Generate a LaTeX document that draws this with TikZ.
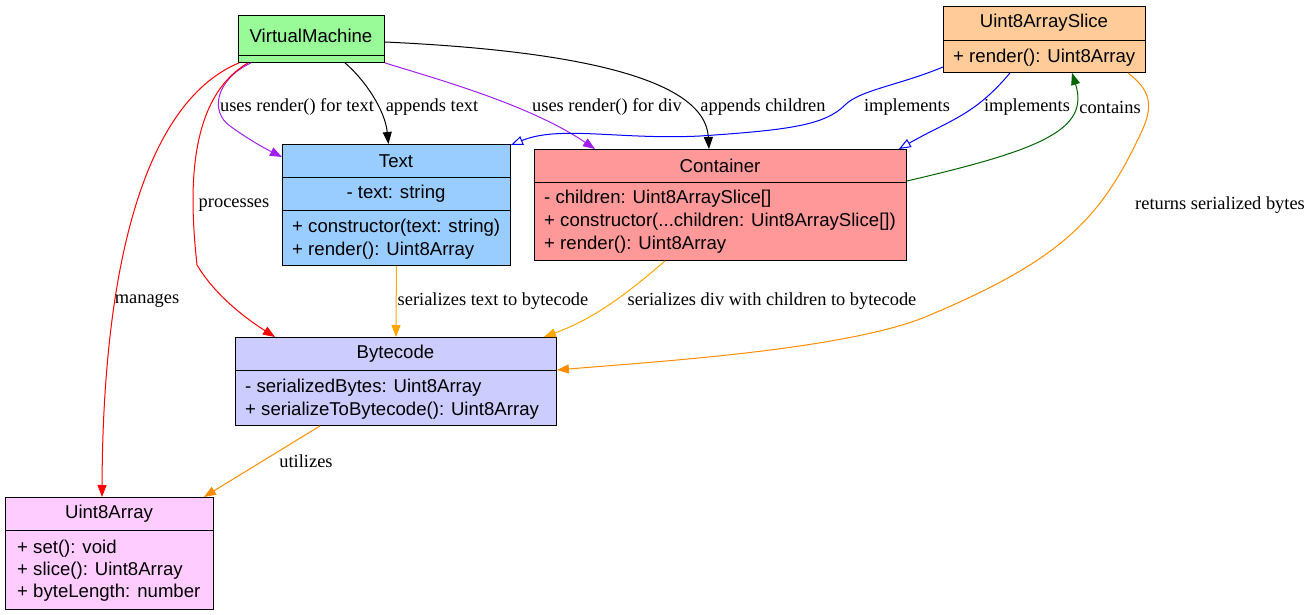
\documentclass[tikz,border=0pt]{standalone}
\usepackage{fontspec}
\setmainfont{Liberation Serif}
\newfontfamily\arialf{Liberation Sans}
\usetikzlibrary{arrows.meta,calc}
\definecolor{vmgreen}{HTML}{98FB98}
\definecolor{slicefill}{HTML}{FFCC99}
\definecolor{textfill}{HTML}{99CCFF}
\definecolor{contfill}{HTML}{FF9999}
\definecolor{bytefill}{HTML}{CCCCFF}
\definecolor{ufill}{HTML}{FFCCFF}
\definecolor{epurple}{HTML}{A020F0}
\definecolor{eorange}{HTML}{FFA500}
\definecolor{edorange}{HTML}{FF8C00}
\definecolor{egreen}{HTML}{006400}
\definecolor{eblue}{HTML}{0000FF}
\definecolor{ered}{HTML}{FF0000}
\begin{document}
\begin{tikzpicture}[x=1pt,y=-1pt,
  cls/.style={draw=black, line width=0.9pt, anchor=north west, inner sep=0pt},
  ttl/.style={font=\arialf\fontsize{18.6}{22}\selectfont, inner sep=0pt},
  mem/.style={font=\arialf\fontsize{18.6}{22}\selectfont, inner sep=0pt, anchor=west},
  lbl/.style={font=\fontsize{18.4}{22}\selectfont, inner sep=0pt},
  conn/.style={line width=1pt, -{Triangle[length=12pt,width=9pt]}},
  impl/.style={line width=1pt, -{Triangle[open,length=12pt,width=9pt]}},
  sep/.style={line width=0.9pt}
]
\useasboundingbox (0,0) rectangle (1311,615);

% VirtualMachine
\node[cls, fill=vmgreen, minimum width=146pt, minimum height=47pt] (vm) at (238,15) {};
\draw[sep] (238,55) -- (384,55);
\node[ttl] (vmt) at (311,36) {VirtualMachine};

% Uint8ArraySlice
\node[cls, fill=slicefill, minimum width=202pt, minimum height=66pt] (slice) at (943,6) {};
\draw[sep] (943,40) -- (1145,40);
\node[ttl] (slicet) at (1044,23) {Uint8ArraySlice};
\node[mem] (slicem) at (953,57.5) {+ render(): Uint8Array};

% Text
\node[cls, fill=textfill, minimum width=228pt, minimum height=121pt] (text) at (282,144) {};
\draw[sep] (282,177) -- (510,177);
\draw[sep] (282,210) -- (510,210);
\node[ttl] (textt) at (396,161) {Text};
\node[ttl] (texta) at (396,193.5) {- text: string};
\node[mem] (textm1) at (292,227.5) {+ constructor(text: string)};
\node[mem] (textm2) at (292,250.5) {+ render(): Uint8Array};

% Container
\node[cls, fill=contfill, minimum width=372pt, minimum height=111pt] (cont) at (534,149) {};
\draw[sep] (534,182) -- (906,182);
\node[ttl] (contt) at (720,166) {Container};
\node[mem] (contm1) at (544,198.5) {- children: Uint8ArraySlice[]};
\node[mem] (contm2) at (544,221.5) {+ constructor(...children: Uint8ArraySlice[])};
\node[mem] (contm3) at (544,244.5) {+ render(): Uint8Array};

% Bytecode
\node[cls, fill=bytefill, minimum width=321pt, minimum height=88pt] (byte) at (235,337) {};
\draw[sep] (235,370) -- (556,370);
\node[ttl] (bytet) at (395.5,354) {Bytecode};
\node[mem] (bytem1) at (245,387.5) {- serializedBytes: Uint8Array};
\node[mem] (bytem2) at (245,410.5) {+ serializeToBytecode(): Uint8Array};

% Uint8Array
\node[cls, fill=ufill, minimum width=208pt, minimum height=112pt] (u8) at (5,497) {};
\draw[sep] (5,530) -- (213,530);
\node[ttl] (u8t) at (109,514) {Uint8Array};
\node[mem] (u8m1) at (17,548.5) {+ set(): void};
\node[mem] (u8m2) at (17,570.5) {+ slice(): Uint8Array};
\node[mem] (u8m3) at (17,592.5) {+ byteLength: number};

% Connectors
\draw[conn, black] ([xshift=107pt]vm.south west) .. controls (365,80) and (385,110) .. ([xshift=-8pt]text.north);
\draw[conn, epurple] ([xshift=13pt]vm.south west) .. controls (215,80) and (210,112) .. (230,126) .. controls (245,137) and (262,147) .. ([yshift=-13pt]text.north west);
\draw[conn, epurple] (vm.south east) .. controls (440,80) and (530,105) .. ([xshift=61pt]cont.north west);
\draw[conn, black] ([yshift=-27pt]vm.north east) .. controls (560,50) and (705,75) .. ([xshift=175pt]cont.north west);
\draw[conn, ered] ([xshift=10pt]vm.south west) .. controls (185,100) and (190,200) .. (197,265) .. controls (215,295) and (245,318) .. ([xshift=40pt]byte.north west);
\draw[conn, ered] ([xshift=1pt]vm.south west) .. controls (150,100) and (103,250) .. ([xshift=97pt]u8.north west);
\draw[impl, eblue] ([yshift=-61pt]slice.north west) .. controls (900,85) and (860,90) .. (845,105) .. controls (825,125) and (790,130) .. (700,136) .. controls (620,140) and (560,125) .. ([yshift=-1pt]text.north east);
\draw[impl, eblue] ([xshift=67pt]slice.south west) .. controls (975,115) and (950,120) .. ([xshift=-8pt]cont.north east);
\draw[conn, egreen] ([yshift=-32pt]cont.north east) .. controls (1040,150) and (1090,130) .. ([xshift=129pt]slice.south west);
\draw[conn, edorange] ([xshift=-18pt]slice.south east) .. controls (1150,90) and (1155,105) .. (1140,135) .. controls (1100,220) and (1060,260) .. (930,315) .. controls (850,350) and (650,362) .. ([yshift=-33pt]byte.north east);
\draw[conn, eorange] (text.south) -- (byte.north);
\draw[conn, eorange] ([xshift=131pt]cont.south west) .. controls (620,300) and (590,320) .. ([xshift=-13pt]byte.north east);
\draw[conn, edorange] ([xshift=85pt]byte.south west) -- ([xshift=-10pt]u8.north east);

% Labels
\node[lbl] (l1) at (297,107) {uses render() for text};
\node[lbl] (l2) at (432,107) {appends text};
\node[lbl] (l3) at (607,107) {uses render() for div};
\node[lbl] (l4) at (763,107) {appends children};
\node[lbl] (l5) at (907,107) {implements};
\node[lbl] (l6) at (1027,107) {implements};
\node[lbl] (l7) at (1110,107) {contains};
\node[lbl] (l8) at (234,205) {processes};
\node[lbl] (l9) at (147,301) {manages};
\node[lbl] (l10) at (493,301) {serializes text to bytecode};
\node[lbl] (l11) at (772,301) {serializes div with children to bytecode};
\node[lbl] (l12) at (1220,205) {returns serialized bytes};
\node[lbl] (l13) at (306,461) {utilizes};
\end{tikzpicture}
\end{document}
